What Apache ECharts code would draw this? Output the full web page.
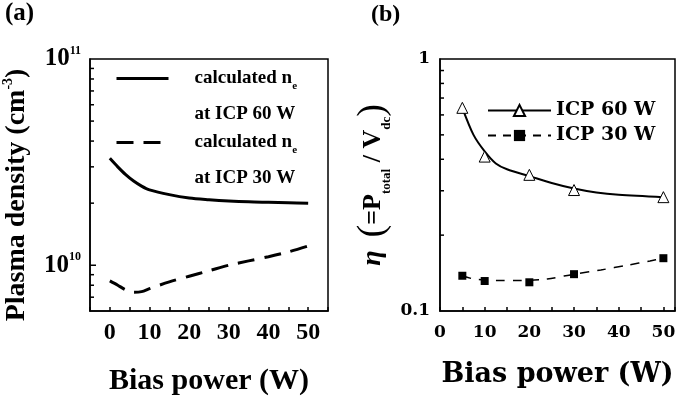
<!DOCTYPE html>
<html>
<head>
<meta charset="utf-8">
<title>Plasma density and eta</title>
<script src="https://cdn.jsdelivr.net/npm/echarts@6/dist/echarts.min.js"></script>
<style>
	*{
		margin: 0;
		padding: 0;
	}
	#chart{
		width: 680px;
		height: 406px;
		background: #fff;
	}
</style>
</head>
<body>
<div id="chart"></div>
<script>
// (a) calculated electron density vs bias power
var biasA = [0, 2, 4, 6, 8, 10, 15, 20, 25, 30, 35, 40, 45, 50];
var ne60 = [3.3e10, 3.0e10, 2.75e10, 2.56e10, 2.42e10, 2.32e10, 2.2e10, 2.12e10, 2.08e10, 2.05e10, 2.03e10, 2.02e10, 2.01e10, 2.0e10];
var ne30 = [8.4e9, 8.0e9, 7.6e9, 7.4e9, 7.45e9, 7.7e9, 8.3e9, 8.85e9, 9.4e9, 1.0e10, 1.05e10, 1.1e10, 1.16e10, 1.24e10];
var ticksA = [7e9, 8e9, 9e9, 1e10, 2e10, 3e10, 4e10, 5e10, 6e10, 7e10, 8e10, 9e10];

// (b) eta vs bias power: measured points
var biasB = [5, 10, 20, 30, 50];
var eta60 = [0.64, 0.41, 0.347, 0.302, 0.283];
var eta30 = [0.138, 0.1315, 0.130, 0.140, 0.162];
// (b) fitted curves
var fitX60 = [5, 7.5, 10, 12.5, 15, 20, 25, 30, 35, 40, 50];
var fit60 = [0.64, 0.50, 0.43, 0.385, 0.365, 0.343, 0.322, 0.306, 0.295, 0.289, 0.283];
var fitX30 = [5, 7.5, 10, 13, 18, 24, 30, 36, 42, 47, 50];
var fit30 = [0.138, 0.134, 0.133, 0.132, 0.132, 0.134, 0.140, 0.1455, 0.152, 0.158, 0.162];
var ticksB = [0.2, 0.3, 0.4, 0.5, 0.6, 0.7, 0.8, 0.9];

function pairs(xs, ys){
	var out = [];
	for (var i = 0; i < xs.length; i++) {
		out.push([xs[i], ys[i]]);
	}
	return out;
}

function isPow10(v){
	var e = Math.log10(v);
	return Math.abs(e - Math.round(e)) < 1e-6;
}

// short inward ticks on the log axes (1..9 x 10^n)
function logTicks(params, api){
	var v = api.value(1);
	var p = api.coord([api.value(0), v]);
	var len = isPow10(v) ? 6 : 4;
	return {
		type: 'line',
		shape: {x1: p[0], y1: p[1], x2: p[0] + len, y2: p[1]},
		style: {stroke: '#000', lineWidth: 1.5}
	};
}

var serifA = 'Liberation Serif';
var serifB = 'DejaVu Serif';
var black = '#000';

var myChart = echarts.init(document.getElementById('chart'));

var option = {
	backgroundColor: '#fff',
	animation: false,
	title: [
		{text: '(a)', left: 0, top: -4, textStyle: {fontFamily: serifA, fontWeight: 'bold', fontSize: 25, color: black}},
		{text: '(b)', left: 366, top: -2, textStyle: {fontFamily: serifA, fontWeight: 'bold', fontSize: 24, color: black}}
	],
	grid: [
		{left: 89, top: 59, width: 239, bottom: 95, show: true, borderColor: black, borderWidth: 1.5, backgroundColor: 'transparent'},
		{left: 440, top: 59, right: 5, bottom: 95, show: true, borderColor: black, borderWidth: 1.5, backgroundColor: 'transparent'}
	],
	legend: [
		{
			data: ['ne60', 'ne30'],
			orient: 'vertical',
			left: 115,
			top: 69,
			padding: 0,
			itemWidth: 52,
			itemHeight: 6,
			itemGap: 9,
			itemStyle: {opacity: 0},
			lineStyle: {width: 3},
			formatter: function (name) {
				var p = name === 'ne60' ? '60' : '30';
				return '{t|calculated n}{s|e}\n{t|at ICP ' + p + ' W}';
			},
			textStyle: {
				padding: [36, 0, 0, 21],
				rich: {
					t: {fontFamily: serifA, fontWeight: 'bold', fontSize: 19, lineHeight: 36, color: black},
					s: {fontFamily: serifA, fontWeight: 'bold', fontSize: 11, verticalAlign: 'bottom', padding: [0, 0, 5, 0], color: black}
				}
			}
		},
		{
			data: [
				{name: 'ICP 60 W', lineStyle: {opacity: 1}},
				{name: 'ICP 30 W', lineStyle: {opacity: 1}}
			],
			orient: 'vertical',
			left: 487,
			top: 101,
			padding: 0,
			itemWidth: 63,
			itemHeight: 14,
			itemGap: 6,
			textStyle: {fontFamily: serifB, fontWeight: 'bold', fontSize: 19, lineHeight: 14, color: black}
		}
	],
	xAxis: [
		{
			gridIndex: 0,
			type: 'value',
			min: -5,
			max: 55,
			interval: 5,
			name: 'Bias power (W)',
			nameLocation: 'middle',
			nameGap: 55,
			nameTextStyle: {fontFamily: serifA, fontWeight: 'bold', fontSize: 30, color: black},
			axisLine: {onZero: false, lineStyle: {color: black, width: 1.5}},
			axisTick: {inside: true, length: 4, lineStyle: {color: black, width: 1.5}},
			splitLine: {show: false},
			axisLabel: {
				margin: 10,
				fontFamily: serifA, fontWeight: 'bold', fontSize: 24, color: black,
				formatter: function (v) {
					return (v >= 0 && v <= 50 && v % 10 === 0) ? String(v) : '';
				}
			}
		},
		{
			gridIndex: 1,
			type: 'value',
			min: 0,
			max: 52.6,
			interval: 5,
			name: 'Bias power (W)',
			nameLocation: 'middle',
			nameGap: 50,
			nameTextStyle: {fontFamily: serifB, fontWeight: 'bold', fontSize: 27, color: black},
			axisLine: {onZero: false, lineStyle: {color: black, width: 1.5}},
			axisTick: {inside: true, length: 4, lineStyle: {color: black, width: 1.5}},
			splitLine: {show: false},
			axisLabel: {
				margin: 13,
				fontFamily: serifB, fontWeight: 'bold', fontSize: 17, color: black,
				formatter: function (v) {
					return (v <= 50 && v % 10 === 0) ? String(v) : '';
				}
			}
		}
	],
	yAxis: [
		{
			gridIndex: 0,
			type: 'log',
			logBase: 10,
			min: 6e9,
			max: 1e11,
			name: 'Plasma density (cm{sup|-3})',
			nameLocation: 'middle',
			nameRotate: 90,
			nameGap: 57,
			nameTextStyle: {
				fontFamily: serifA, fontWeight: 'bold', fontSize: 28, lineHeight: 32, color: black,
				padding: [0, 20, 0, 0],
				rich: {
					sup: {fontFamily: serifA, fontWeight: 'bold', fontSize: 14, lineHeight: 14, verticalAlign: 'top', color: black}
				}
			},
			axisLine: {onZero: false, lineStyle: {color: black, width: 1.5}},
			axisTick: {show: false},
			splitLine: {show: false},
			axisLabel: {
				margin: 9,
				formatter: function (v) {
					if (!isPow10(v)) return '';
					return '{b|10}{s|' + Math.round(Math.log10(v)) + '}';
				},
				rich: {
					b: {fontFamily: serifA, fontWeight: 'bold', fontSize: 25, lineHeight: 28, color: black},
					s: {fontFamily: serifA, fontWeight: 'bold', fontSize: 12, lineHeight: 12, verticalAlign: 'top', color: black}
				}
			}
		},
		{
			gridIndex: 1,
			type: 'log',
			logBase: 10,
			min: 0.1,
			max: 1,
			name: '{eta|η}  {par|(}{m|=P}{sub|total}{m| / V}{sub|dc}{par|)}',
			nameLocation: 'middle',
			nameRotate: 90,
			nameGap: 47,
			nameTextStyle: {
				fontFamily: serifA, fontWeight: 'bold', fontSize: 26, lineHeight: 40, color: black,
				rich: {
					eta: {fontFamily: serifA, fontWeight: 'bold', fontStyle: 'italic', fontSize: 28, color: black},
					par: {fontFamily: serifA, fontWeight: 'normal', fontSize: 38, color: black},
					m: {fontFamily: serifA, fontWeight: 'bold', fontSize: 26, color: black},
					sub: {fontFamily: serifA, fontWeight: 'bold', fontSize: 13, lineHeight: 22, verticalAlign: 'bottom', color: black}
				}
			},
			axisLine: {onZero: false, lineStyle: {color: black, width: 1.5}},
			axisTick: {show: false},
			splitLine: {show: false},
			axisLabel: {
				margin: 10,
				fontFamily: serifB, fontWeight: 'bold', fontSize: 17, color: black,
				formatter: function (v) {
					if (Math.abs(v - 1) < 1e-9) return '1';
					if (Math.abs(v - 0.1) < 1e-9) return '0.1';
					return '';
				}
			}
		}
	],
	series: [
		{
			name: 'ne60',
			type: 'line',
			xAxisIndex: 0,
			yAxisIndex: 0,
			data: pairs(biasA, ne60),
			smooth: 0.3,
			symbol: 'none',
			lineStyle: {color: black, width: 3},
			itemStyle: {color: black}
		},
		{
			name: 'ne30',
			type: 'line',
			xAxisIndex: 0,
			yAxisIndex: 0,
			data: pairs(biasA, ne30),
			smooth: 0.3,
			symbol: 'none',
			lineStyle: {color: black, width: 3, type: [17, 10]},
			itemStyle: {color: black}
		},
		{
			name: 'fit60',
			type: 'line',
			xAxisIndex: 1,
			yAxisIndex: 1,
			data: pairs(fitX60, fit60),
			smooth: 0.3,
			symbol: 'none',
			z: 2,
			lineStyle: {color: black, width: 2}
		},
		{
			name: 'fit30',
			type: 'line',
			xAxisIndex: 1,
			yAxisIndex: 1,
			data: pairs(fitX30, fit30),
			smooth: 0.3,
			symbol: 'none',
			z: 2,
			lineStyle: {color: black, width: 1.5, type: [9, 8]}
		},
		{
			name: 'ICP 60 W',
			type: 'line',
			xAxisIndex: 1,
			yAxisIndex: 1,
			data: pairs(biasB, eta60),
			symbol: 'triangle',
			symbolSize: 11,
			z: 3,
			lineStyle: {color: black, width: 2, opacity: 0},
			itemStyle: {color: '#fff', borderColor: black, borderWidth: 1}
		},
		{
			name: 'ICP 30 W',
			type: 'line',
			xAxisIndex: 1,
			yAxisIndex: 1,
			data: pairs(biasB, eta30),
			symbol: 'rect',
			symbolSize: 8,
			z: 3,
			lineStyle: {color: black, width: 1.5, type: [8, 7], opacity: 0},
			itemStyle: {color: black}
		},
		{
			name: 'ticksA',
			type: 'custom',
			xAxisIndex: 0,
			yAxisIndex: 0,
			silent: true,
			data: ticksA.map(function (v) { return [-5, v]; }),
			renderItem: logTicks
		},
		{
			name: 'ticksB',
			type: 'custom',
			xAxisIndex: 1,
			yAxisIndex: 1,
			silent: true,
			data: ticksB.map(function (v) { return [0, v]; }),
			renderItem: logTicks
		}
	]
};

myChart.setOption(option);
</script>
</body>
</html>
